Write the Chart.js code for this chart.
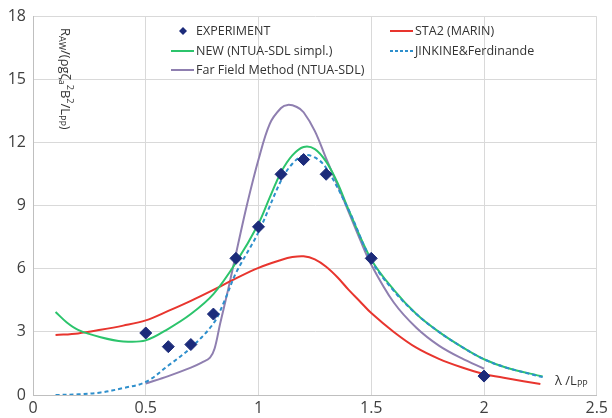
<!DOCTYPE html>
<html>
<head>
<meta charset="utf-8">
<script src="https://cdn.jsdelivr.net/npm/chart.js@4.4.1/dist/chart.umd.min.js"></script>
<style>
  html, body { margin: 0; padding: 0; background: #fff; overflow: hidden; }
  #wrap { width: 612px; height: 418px; }
</style>
</head>
<body>
<div id="wrap"><canvas id="myChart" width="612" height="418"></canvas></div>
<script>
// series names as in the legend
const seriesNames = ["EXPERIMENT", "STA2 (MARIN)", "NEW (NTUA-SDL simpl.)", "JINKINE&Ferdinande", "Far Field Method (NTUA-SDL)"];

// axis ticks
const xTicks = [0, 0.5, 1, 1.5, 2, 2.5];
const yTicks = [0, 3, 6, 9, 12, 15, 18];

// experiment points
const expX = [0.5, 0.6, 0.7, 0.8, 0.9, 1.0, 1.1, 1.2, 1.3, 1.5, 2.0];
const expY = [2.95, 2.3, 2.4, 3.85, 6.5, 8.0, 10.5, 11.2, 10.5, 6.5, 0.9];

// STA2 (MARIN)
const sta2X = [0.1, 0.2, 0.3, 0.4, 0.5, 0.6, 0.7, 0.8, 0.9, 1.0, 1.1, 1.15, 1.2, 1.25, 1.3, 1.35, 1.4, 1.45, 1.5, 1.6, 1.7, 1.8, 1.9, 2.0, 2.1, 2.25];
const sta2Y = [2.85, 2.93, 3.1, 3.3, 3.55, 4.0, 4.48, 5.0, 5.55, 6.05, 6.42, 6.56, 6.6, 6.45, 6.1, 5.6, 5.0, 4.45, 3.9, 3.0, 2.25, 1.72, 1.32, 1.0, 0.8, 0.52];

// NEW (NTUA-SDL simpl.)
const newX = [0.1, 0.15, 0.2, 0.3, 0.4, 0.5, 0.6, 0.7, 0.8, 0.9, 1.0, 1.05, 1.1, 1.15, 1.2, 1.25, 1.3, 1.35, 1.4, 1.5, 1.6, 1.7, 1.8, 1.9, 2.0, 2.1, 2.26];
const newY = [3.95, 3.45, 3.1, 2.75, 2.55, 2.6, 3.15, 3.85, 4.8, 6.3, 8.15, 9.4, 10.6, 11.4, 11.8, 11.7, 11.1, 10.1, 8.8, 6.45, 5.0, 3.85, 3.0, 2.3, 1.7, 1.3, 0.88];

// JINKINE&Ferdinande
const jinX = [0.1, 0.2, 0.3, 0.4, 0.5, 0.6, 0.7, 0.8, 0.85, 0.9, 1.0, 1.1, 1.15, 1.2, 1.25, 1.3, 1.4, 1.5, 1.6, 1.7, 1.8, 1.9, 2.0, 2.1, 2.26];
const jinY = [0.0, 0.03, 0.12, 0.33, 0.62, 1.4, 2.25, 3.4, 4.5, 5.8, 7.75, 10.2, 11.0, 11.4, 11.3, 10.8, 8.8, 6.4, 4.95, 3.85, 3.0, 2.3, 1.7, 1.3, 0.85];

// Far Field Method (NTUA-SDL)
const farX = [0.5, 0.6, 0.7, 0.75, 0.785, 0.805, 0.83, 0.865, 0.91, 0.95, 1.0, 1.05, 1.1, 1.13, 1.17, 1.2, 1.25, 1.3, 1.35, 1.4, 1.45, 1.5, 1.6, 1.7, 1.8, 1.9, 2.0];
const farY = [0.55, 0.9, 1.3, 1.55, 1.78, 2.2, 3.4, 5.0, 7.2, 9.1, 11.2, 12.9, 13.65, 13.8, 13.7, 13.45, 12.55, 11.25, 10.0, 8.7, 7.4, 6.2, 4.4, 3.2, 2.35, 1.75, 1.25];

const colors = {
    exp: "#1c2b7a",
    sta2: "#e8352e",
    newc: "#2cc46c",
    jin: "#2e8fcc",
    far: "#8f7fb0"
};

function pts(xs, ys) {
    return xs.map((x, i) => ({ x: x, y: ys[i] }));
}

function lineSet(label, xs, ys, color, order, dash) {
    return {
        label: label,
        data: pts(xs, ys),
        borderColor: color,
        backgroundColor: color,
        borderWidth: 2,
        borderDash: dash || [],
        pointRadius: 0,
        showLine: true,
        fill: false,
        tension: 0.35,
        order: order
    };
}

// draws a string made of normal / sub / sup pieces from the current origin
function drawRich(ctx, parts, size) {
    let x = 0;
    parts.forEach(p => {
        let small = p[1] !== "n";
        ctx.font = (small ? Math.round(size * 0.68) : size) + "px 'Open Sans', sans-serif";
        let dy = p[1] === "sub" ? size * 0.3 : (p[1] === "sup" ? -size * 0.35 : 0);
        ctx.fillText(p[0], x, dy);
        x += ctx.measureText(p[0]).width;
    });
}

const overlayText = {
    id: "overlayText",
    afterDraw(chart) {
        const ctx = chart.ctx;
        ctx.save();
        ctx.fillStyle = "#333";
        ctx.textBaseline = "middle";
        ctx.textAlign = "left";

        // legend, two columns
        ctx.font = "12.5px 'Open Sans', sans-serif";
        ctx.fillStyle = colors.exp;
        ctx.beginPath();
        ctx.moveTo(183, 27); ctx.lineTo(187, 31); ctx.lineTo(183, 35); ctx.lineTo(179, 31);
        ctx.closePath(); ctx.fill();
        ctx.fillStyle = "#333";
        ctx.fillText(seriesNames[0], 196, 31);

        let rows = [
            [171, 51, colors.newc, [], seriesNames[2]],
            [171, 70, colors.far, [], seriesNames[4]],
            [390, 31, colors.sta2, [], seriesNames[1]],
            [390, 51, colors.jin, [3, 2], seriesNames[3]]
        ];
        rows.forEach(r => {
            ctx.strokeStyle = r[2];
            ctx.lineWidth = 2;
            ctx.setLineDash(r[3]);
            ctx.beginPath();
            ctx.moveTo(r[0], r[1]);
            ctx.lineTo(r[0] + 23, r[1]);
            ctx.stroke();
            ctx.setLineDash([]);
            ctx.fillText(r[4], r[0] + 25, r[1]);
        });

        // y axis title, reads top to bottom
        ctx.save();
        ctx.translate(65, 28);
        ctx.rotate(Math.PI / 2);
        drawRich(ctx, [["R", "n"], ["AW", "sub"], ["/(ρgζ", "n"], ["a", "sub"], ["2", "sup"], ["B", "n"], ["2", "sup"], ["/L", "n"], ["PP", "sub"], [")", "n"]], 13);
        ctx.restore();

        // x axis title
        ctx.translate(555, 381);
        drawRich(ctx, [["λ /L", "n"], ["PP", "sub"]], 13);

        ctx.restore();
    }
};

new Chart("myChart", {
    type: "scatter",
    data: {
        datasets: [
            {
                label: seriesNames[0],
                data: pts(expX, expY),
                pointStyle: "rectRot",
                pointRadius: 6,
                pointBackgroundColor: colors.exp,
                pointBorderColor: colors.exp,
                showLine: false,
                order: 0
            },
            lineSet(seriesNames[1], sta2X, sta2Y, colors.sta2, 4),
            lineSet(seriesNames[2], newX, newY, colors.newc, 3),
            lineSet(seriesNames[3], jinX, jinY, colors.jin, 2, [4, 3]),
            lineSet(seriesNames[4], farX, farY, colors.far, 5)
        ]
    },
    options: {
        responsive: false,
        animation: false,
        devicePixelRatio: 1,
        layout: {
            autoPadding: false,
            padding: { left: 0, right: 10, top: 12, bottom: 0 }
        },
        plugins: {
            legend: { display: false },
            tooltip: { enabled: false }
        },
        scales: {
            x: {
                type: "linear",
                min: 0,
                max: 2.5,
                afterBuildTicks: s => { s.ticks = xTicks.map(v => ({ value: v })); },
                afterFit: s => { s.height = 23; },
                grid: { color: "#d9d9d9", lineWidth: 1, drawTicks: false },
                border: { color: "#bfbfbf", width: 1 },
                ticks: {
                    padding: 4,
                    color: "#404040",
                    font: { family: "'Open Sans', sans-serif", size: 16 },
                    maxRotation: 0,
                    callback: v => String(v)
                }
            },
            y: {
                type: "linear",
                min: 0,
                max: 18,
                afterBuildTicks: s => { s.ticks = yTicks.map(v => ({ value: v })); },
                afterFit: s => { s.width = 33; },
                grid: { color: "#d9d9d9", lineWidth: 1, drawTicks: false },
                border: { color: "#bfbfbf", width: 1 },
                ticks: {
                    padding: 7,
                    color: "#404040",
                    font: { family: "'Open Sans', sans-serif", size: 16 }
                }
            }
        }
    },
    plugins: [overlayText]
});
</script>
</body>
</html>
